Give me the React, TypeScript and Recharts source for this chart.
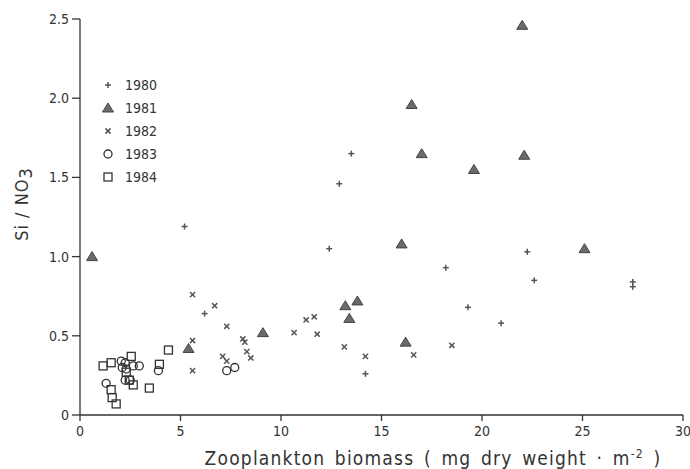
import { ScatterChart, Scatter, XAxis, YAxis } from 'recharts'

// Si/NO3 ratio vs zooplankton biomass, 1980-1984
const FONT = '"DejaVu Sans Condensed", "Liberation Sans Narrow", "DejaVu Sans", sans-serif'
const INK = '#333333'
const MARK = '#555555'

const years = ['1980', '1981', '1982', '1983', '1984']
const xTicks = [0, 5, 10, 15, 20, 25, 30]
const yTicks = [0, 0.5, 1, 1.5, 2, 2.5]

const data1980 = [
  { x: 5.2, y: 1.19 }, { x: 6.2, y: 0.64 }, { x: 12.4, y: 1.05 }, { x: 12.9, y: 1.46 },
  { x: 13.5, y: 1.65 }, { x: 14.2, y: 0.26 }, { x: 18.2, y: 0.93 }, { x: 19.3, y: 0.68 },
  { x: 20.95, y: 0.58 }, { x: 22.25, y: 1.03 }, { x: 22.6, y: 0.85 }, { x: 27.5, y: 0.84 },
  { x: 27.5, y: 0.81 },
]
const data1981 = [
  { x: 0.6, y: 1.0 }, { x: 5.4, y: 0.42 }, { x: 9.1, y: 0.52 }, { x: 13.2, y: 0.69 },
  { x: 13.4, y: 0.61 }, { x: 13.8, y: 0.72 }, { x: 16.0, y: 1.08 }, { x: 16.2, y: 0.46 },
  { x: 16.5, y: 1.96 }, { x: 17.0, y: 1.65 }, { x: 19.6, y: 1.55 }, { x: 22.0, y: 2.46 },
  { x: 22.1, y: 1.64 }, { x: 25.1, y: 1.05 },
]
const data1982 = [
  { x: 5.6, y: 0.76 }, { x: 5.6, y: 0.47 }, { x: 5.6, y: 0.28 }, { x: 6.7, y: 0.69 },
  { x: 7.1, y: 0.37 }, { x: 7.3, y: 0.56 }, { x: 7.3, y: 0.34 }, { x: 8.1, y: 0.48 },
  { x: 8.2, y: 0.46 }, { x: 8.3, y: 0.4 }, { x: 8.5, y: 0.36 }, { x: 10.65, y: 0.52 },
  { x: 11.25, y: 0.6 }, { x: 11.65, y: 0.62 }, { x: 11.8, y: 0.51 }, { x: 13.15, y: 0.43 },
  { x: 14.2, y: 0.37 }, { x: 16.6, y: 0.38 }, { x: 18.5, y: 0.44 },
]
const data1983 = [
  { x: 1.3, y: 0.2 }, { x: 2.05, y: 0.34 }, { x: 2.25, y: 0.33 }, { x: 2.1, y: 0.3 },
  { x: 2.3, y: 0.29 }, { x: 2.25, y: 0.22 }, { x: 2.5, y: 0.22 }, { x: 2.65, y: 0.31 },
  { x: 2.95, y: 0.31 }, { x: 3.9, y: 0.28 }, { x: 7.3, y: 0.28 }, { x: 7.7, y: 0.3 },
]
const data1984 = [
  { x: 1.15, y: 0.31 }, { x: 1.55, y: 0.33 }, { x: 1.55, y: 0.16 }, { x: 1.6, y: 0.11 },
  { x: 1.8, y: 0.07 }, { x: 2.3, y: 0.27 }, { x: 2.45, y: 0.22 }, { x: 2.55, y: 0.37 },
  { x: 2.65, y: 0.19 }, { x: 3.45, y: 0.17 }, { x: 3.95, y: 0.32 }, { x: 4.4, y: 0.41 },
]

function marker(i: number, cx: number, cy: number) {
  if (i === 0)
    return (
      <g stroke={MARK} strokeWidth={1.5}>
        <line x1={cx - 3} x2={cx + 3} y1={cy} y2={cy} />
        <line x1={cx} x2={cx} y1={cy - 3} y2={cy + 3} />
      </g>
    )
  if (i === 1)
    return (
      <polygon
        points={`${cx},${cy - 5} ${cx - 5.5},${cy + 4} ${cx + 5.5},${cy + 4}`}
        fill="#6b6b6b"
        stroke="#444"
        strokeWidth={1}
      />
    )
  if (i === 2)
    return (
      <g stroke={MARK} strokeWidth={1.5}>
        <line x1={cx - 2.6} x2={cx + 2.6} y1={cy - 2.6} y2={cy + 2.6} />
        <line x1={cx - 2.6} x2={cx + 2.6} y1={cy + 2.6} y2={cy - 2.6} />
      </g>
    )
  if (i === 3) return <circle cx={cx} cy={cy} r={4} fill="none" stroke={INK} strokeWidth={1.3} />
  return <rect x={cx - 4} y={cy - 4} width={8} height={8} fill="none" stroke={INK} strokeWidth={1.3} />
}

const shapeFor = (i: number) => (p: any) => marker(i, p.cx, p.cy)

const XLabel = () => (
  <text
    x={433}
    y={465}
    textAnchor="middle"
    fontFamily={FONT}
    fontSize={19}
    fill={INK}
    letterSpacing={1.2}
    wordSpacing={3}
  >
    Zooplankton  biomass ( mg dry weight · m
    <tspan dy={-7} fontSize={12}>-2</tspan>
    <tspan dy={7}> )</tspan>
  </text>
)

const YLabel = () => (
  <text
    x={28}
    y={204}
    transform="rotate(-90, 28, 204)"
    textAnchor="middle"
    fontFamily={FONT}
    fontSize={18}
    fill={INK}
    letterSpacing={1}
  >
    Si / NO
    <tspan dy={4}>3</tspan>
  </text>
)

export default function App() {
  const tick = { fontFamily: FONT, fontSize: 14, fill: INK }
  const axisLine = { stroke: INK, strokeWidth: 1.3 }
  return (
    <div style={{ position: 'absolute', left: 0, top: 0, width: 690, height: 469, background: '#fff' }}>
      <ScatterChart width={690} height={469} margin={{ top: 19, right: 7, bottom: 0, left: 0 }}>
        <XAxis
          type="number"
          dataKey="x"
          domain={[0, 30]}
          ticks={xTicks}
          tick={tick}
          tickSize={6}
          tickMargin={5}
          axisLine={axisLine}
          tickLine={axisLine}
          height={54}
          label={{ content: () => <XLabel /> }}
        />
        <YAxis
          type="number"
          dataKey="y"
          domain={[0, 2.5]}
          ticks={yTicks}
          tick={tick}
          tickSize={8}
          tickMargin={3}
          axisLine={axisLine}
          tickLine={axisLine}
          width={80}
          tickFormatter={(v: number) => (v === 0 ? '0' : v.toFixed(1))}
          label={{ content: () => <YLabel /> }}
        />
        <Scatter name="1980" data={data1980} shape={shapeFor(0)} isAnimationActive={false} />
        <Scatter name="1981" data={data1981} shape={shapeFor(1)} isAnimationActive={false} />
        <Scatter name="1982" data={data1982} shape={shapeFor(2)} isAnimationActive={false} />
        <Scatter name="1983" data={data1983} shape={shapeFor(3)} isAnimationActive={false} />
        <Scatter name="1984" data={data1984} shape={shapeFor(4)} isAnimationActive={false} />
      </ScatterChart>
      {/* legend */}
      <div style={{ position: 'absolute', left: 98, top: 73, fontFamily: FONT, fontSize: 14, color: INK }}>
        {years.map((yr, i) => (
          <div key={yr} style={{ display: 'flex', alignItems: 'center', height: 23 }}>
            <svg width={20} height={14}>{marker(i, 10, 7)}</svg>
            <span style={{ marginLeft: 7 }}>{yr}</span>
          </div>
        ))}
      </div>
    </div>
  )
}
